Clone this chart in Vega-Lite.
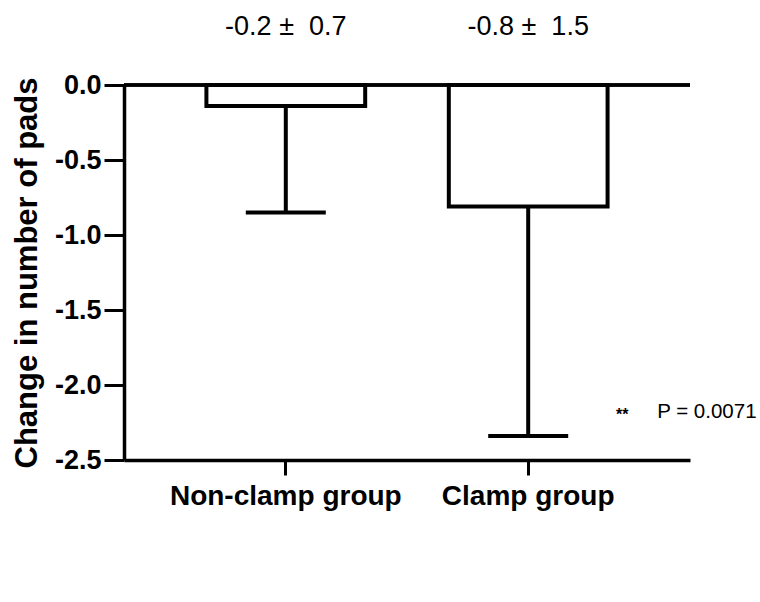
{
  "$schema": "https://vega.github.io/schema/vega-lite/v6.json",
  "width": 566,
  "height": 375,
  "autosize": {"type": "none"},
  "padding": {"left": 124, "top": 85, "right": 70, "bottom": 142},
  "background": "white",
  "config": {
    "view": {"stroke": null},
    "font": "Liberation Sans",
    "axis": {"grid": false, "domainColor": "black", "tickColor": "black", "labelColor": "black", "titleColor": "black"}
  },
  "datasets": {
    "groups": [
      {"group": "Non-clamp group", "mean": -0.14, "err": -0.85, "label": "-0.2 \u00b1\u00a0 0.7"},
      {"group": "Clamp group", "mean": -0.81, "err": -2.34, "label": "-0.8 \u00b1\u00a0 1.5"}
    ],
    "annot": [
      {"group": "Clamp group", "y": -2.18, "stars": "**", "p": "P = 0.0071"}
    ]
  },
  "encoding": {
    "x": {
      "field": "group",
      "type": "nominal",
      "sort": ["Non-clamp group", "Clamp group"],
      "scale": {"domain": ["Non-clamp group", "Clamp group"], "paddingInner": 0.345, "paddingOuter": 0.34},
      "axis": {
        "title": null,
        "labelAngle": 0,
        "labelFontSize": 28,
        "labelFontWeight": "bold",
        "labelLimit": 0,
        "labelPadding": 7,
        "tickSize": 15,
        "tickWidth": 3,
        "domainWidth": 3.5
      }
    }
  },
  "layer": [
    {
      "data": {"name": "groups"},
      "mark": {"type": "bar", "fill": "white", "stroke": "black", "strokeWidth": 4},
      "encoding": {
        "y": {
          "field": "mean",
          "type": "quantitative",
          "scale": {"domain": [-2.5, 0], "nice": false, "zero": false},
          "axis": {
            "title": "Change in number of pads",
            "titleFontSize": 31,
            "titleFontWeight": "bold",
            "titlePadding": 11,
            "values": [0, -0.5, -1, -1.5, -2, -2.5],
            "labelExpr": "replace(format(datum.value, '.1f'), '\u2212', '-')",
            "labelFontSize": 27,
            "labelFontWeight": "bold",
            "labelPadding": 3,
            "tickSize": 20,
            "tickWidth": 3,
            "domainWidth": 3.5
          }
        }
      }
    },
    {
      "data": {"name": "groups"},
      "mark": {"type": "rule", "strokeWidth": 4, "color": "black"},
      "encoding": {
        "y": {"field": "mean", "type": "quantitative"},
        "y2": {"field": "err"}
      }
    },
    {
      "data": {"name": "groups"},
      "mark": {"type": "tick", "orient": "horizontal", "size": 80, "thickness": 4, "color": "black", "opacity": 1},
      "encoding": {
        "y": {"field": "err", "type": "quantitative"}
      }
    },
    {
      "data": {"name": "groups"},
      "mark": {"type": "text", "fontSize": 27, "color": "black", "dy": -58, "clip": false},
      "encoding": {
        "y": {"datum": 0},
        "text": {"field": "label"}
      }
    },
    {
      "data": {"name": "groups"},
      "mark": {"type": "rule", "strokeWidth": 3.5, "color": "black"},
      "encoding": {
        "x": {"value": 0},
        "x2": {"value": 566},
        "y": {"datum": 0}
      }
    },
    {
      "data": {"name": "annot"},
      "mark": {"type": "text", "fontSize": 16, "fontWeight": "bold", "color": "black", "align": "center", "dx": 94, "dy": 3},
      "encoding": {
        "y": {"field": "y", "type": "quantitative"},
        "text": {"field": "stars"}
      }
    },
    {
      "data": {"name": "annot"},
      "mark": {"type": "text", "fontSize": 20.5, "color": "black", "align": "left", "dx": 129},
      "encoding": {
        "y": {"field": "y", "type": "quantitative"},
        "text": {"field": "p"}
      }
    }
  ]
}
